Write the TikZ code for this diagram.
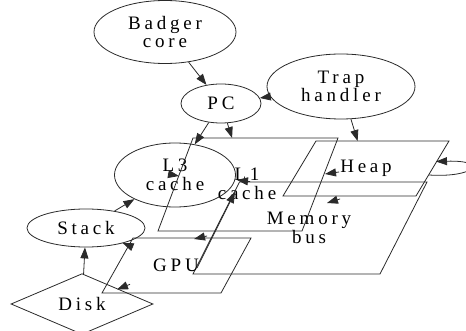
\documentclass[tikz,border=0pt]{standalone}
\usepackage{fontspec}
\setmainfont{Liberation Serif}[LetterSpace=20]
\usetikzlibrary{shapes.geometric,arrows.meta}
\definecolor{ln}{HTML}{2A2A2A}
\tikzset{
  txt/.style={font=\fontsize{19pt}{18.5pt}\selectfont},
  ell/.style={ellipse,draw=ln,line width=0.8pt,inner sep=0pt,align=center,txt},
  lbl/.style={inner sep=0pt,align=center,txt},
  para/.style={draw=ln,line width=0.8pt,line join=miter},
  arr/.style={draw=ln,line width=0.8pt,-{Triangle[length=11pt,width=8pt]}},
  tip/.style={draw=ln,line width=0.8pt,-{Triangle[length=11pt,width=8pt]},shorten <=-0.1pt}
}
\begin{document}
\begin{tikzpicture}[x=1pt,y=-1pt]
\useasboundingbox (0,0) rectangle (466,331);
% ellipses
\node[ell,minimum width=142pt,minimum height=63pt] (bc) at (165,32) {Badger\\core};
\node[ell,minimum width=80pt,minimum height=39pt] (pc) at (221,103.5) {PC};
\node[ell,minimum width=148pt,minimum height=65pt] (trap) at (341,86.5) {Trap\\handler};
\node[ell,minimum width=121pt,minimum height=64pt] (l3) at (175,175) {L3\\cache};
\node[ell,minimum width=118pt,minimum height=38pt] (stack) at (86,228) {Stack};
\node[diamond,draw=ln,line width=0.8pt,inner sep=0pt,minimum width=142pt,minimum height=52pt,txt] (disk) at (82,304) {Disk};
% parallelograms
\coordinate (l1a) at (193,138); \coordinate (l1b) at (338,138);
\coordinate (l1c) at (302,231); \coordinate (l1d) at (158,231);
\draw[para] (l1a) -- (l1b) -- (l1c) -- (l1d) -- cycle;
\node[lbl] (l1) at (247,184) {L1\\cache};
\coordinate (hpa) at (316,141); \coordinate (hpb) at (449,141);
\coordinate (hpc) at (416,196); \coordinate (hpd) at (283,196);
\draw[para] (hpa) -- (hpb) -- (hpc) -- (hpd) -- cycle;
\node[lbl] (heap) at (366,168.5) {Heap};
\coordinate (mba) at (239.5,182); \coordinate (mbb) at (427,182);
\coordinate (mbc) at (380,274); \coordinate (mbd) at (193,274);
\draw[para] (mba) -- (mbb) -- (mbc) -- (mbd) -- cycle;
\node[lbl] (mb) at (309,228) {Memory\\bus};
\coordinate (gpa) at (133,238); \coordinate (gpb) at (251,238);
\coordinate (gpc) at (221,293); \coordinate (gpd) at (102,293);
\draw[para] (gpa) -- (gpb) -- (gpc) -- (gpd) -- cycle;
\node[lbl] (gpu) at (176,265) {GPU};
% edges
\draw[arr] (bc) -- (pc);
\draw[arr] (trap) -- (pc);
\draw[arr] (pc) -- (l3);
\coordinate (l1top) at (232.1,138);
\draw[arr] (pc) -- (l1top);
\coordinate (hptop) at (357.6,141);
\draw[arr] (trap) -- (hptop);
\draw[arr] (stack) -- (l3);
\draw[arr] (disk) -- (stack);
% heap self loop
\coordinate (hpr) at (429,175);
\coordinate (hpt) at (436,161.5);
\draw[arr] (hpr) .. controls (475,178) and (490,160) .. (hpt);
% short arrowheads of clipped edges
\coordinate (g2sa) at (133,247.2); \coordinate (g2sb) at (122.6,243);
\draw[tip] (g2sa) -- (g2sb);
\coordinate (g2da) at (130,284.3); \coordinate (g2db) at (117,289.5);
\draw[tip] (g2da) -- (g2db);
\coordinate (l3la) at (168,174); \coordinate (l3lb) at (179,176);
\draw[tip] (l3la) -- (l3lb);
\coordinate (l1la) at (250,181.6); \coordinate (l1lb) at (237,180);
\draw[tip] (l1la) -- (l1lb);
\coordinate (h2la) at (339,172); \coordinate (h2lb) at (325,174);
\draw[tip] (h2la) -- (h2lb);
\coordinate (m2ha) at (340,199); \coordinate (m2hb) at (327,203);
\draw[tip] (m2ha) -- (m2hb);
\coordinate (m2ga) at (207,236); \coordinate (m2gb) at (194,239);
\draw[tip] (m2ga) -- (m2gb);
\coordinate (g2la) at (197,268); \coordinate (g2lb) at (235,192);
\draw[arr] (g2la) -- (g2lb);
\end{tikzpicture}
\end{document}
